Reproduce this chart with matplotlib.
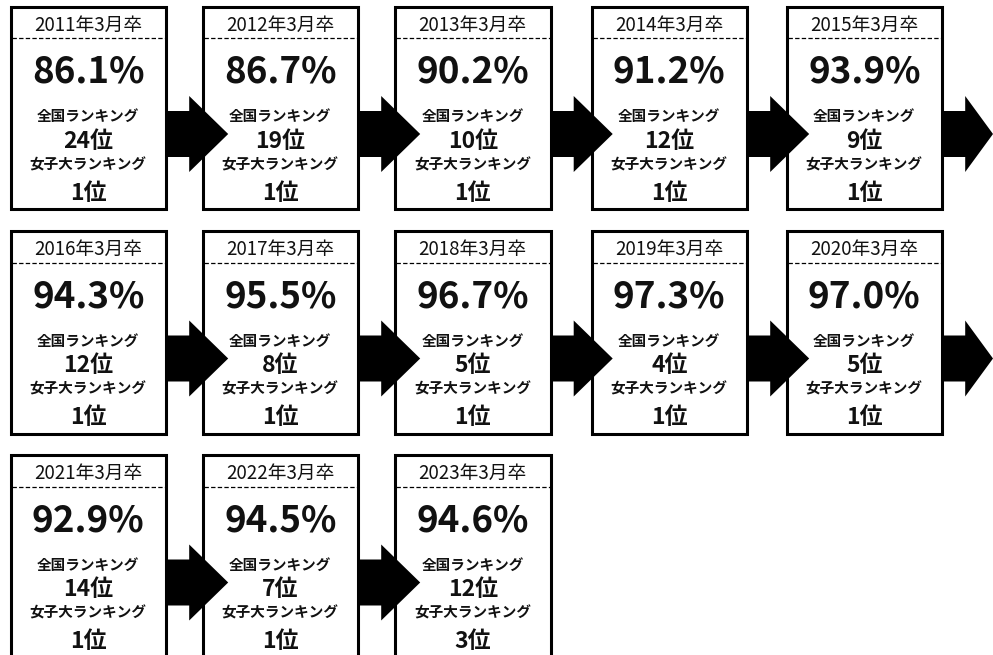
import matplotlib
matplotlib.use('Agg')
import matplotlib.pyplot as plt
from matplotlib.patches import Rectangle, Polygon

plt.rcParams['font.family'] = ['Noto Sans CJK JP', 'DejaVu Sans']

# data
years = [2011, 2012, 2013, 2014, 2015, 2016, 2017, 2018, 2019, 2020, 2021, 2022, 2023]
rates = [86.1, 86.7, 90.2, 91.2, 93.9, 94.3, 95.5, 96.7, 97.3, 97.0, 92.9, 94.5, 94.6]
national_rank = [24, 19, 10, 12, 9, 12, 8, 5, 4, 5, 14, 7, 12]
women_rank = [1, 1, 1, 1, 1, 1, 1, 1, 1, 1, 1, 1, 3]

label_national = '全国ランキング'
label_women = '女子大ランキング'

# layout (pixels)
W, H = 993, 655
col_left = [10.5, 202.5, 395, 591.5, 786.5]
row_top = [6.5, 231, 455]
card_w = 155.5
card_h = 202.5
per_row = 5
ink = '#111111'

fig = plt.figure(figsize=(W / 100, H / 100), dpi=100)
ax = fig.add_axes([0, 0, 1, 1])
ax.set_xlim(0, W)
ax.set_ylim(H, 0)
ax.axis('off')

for i, yr in enumerate(years):
  r, c = divmod(i, per_row)
  x0 = col_left[c]
  y0 = row_top[r]
  cx = x0 + card_w / 2

  # card box
  ax.add_patch(Rectangle((x0, y0), card_w, card_h, facecolor='white',
                         edgecolor='black', linewidth=2.2, zorder=1))
  # dashed header separator
  ax.plot([x0 + 1, x0 + card_w - 1], [y0 + 31.5, y0 + 31.5], color='black',
          linewidth=0.9, linestyle=(0, (3.5, 1.8)), zorder=2)

  ax.text(cx, y0 + 24, '%d年3月卒' % yr, ha='center', va='baseline',
          fontsize=13.5, color=ink, zorder=3)
  ax.text(cx, y0 + 76, '%.1f%%' % rates[i], ha='center', va='baseline',
          fontsize=26.5, fontweight='bold', color=ink, zorder=3)
  ax.text(cx, y0 + 114.5, label_national, ha='center', va='baseline',
          fontsize=10.5, fontweight='bold', color=ink, zorder=3)
  ax.text(cx, y0 + 141.5, '%d位' % national_rank[i], ha='center', va='baseline',
          fontsize=16.5, fontweight='bold', color=ink, zorder=3)
  ax.text(cx, y0 + 162.5, label_women, ha='center', va='baseline',
          fontsize=10.5, fontweight='bold', color=ink, zorder=3)
  ax.text(cx, y0 + 193.5, '%d位' % women_rank[i], ha='center', va='baseline',
          fontsize=16.5, fontweight='bold', color=ink, zorder=3)

  # arrow to the next card
  if i < len(years) - 1:
    R = x0 + card_w + 1.2
    yc = y0 + 127.5
    tip = min(R + 61, W)
    base = R + 22
    pts = [(R, yc - 23), (base, yc - 23), (base, yc - 38), (tip, yc),
           (base, yc + 38), (base, yc + 23), (R, yc + 23)]
    ax.add_patch(Polygon(pts, closed=True, facecolor='black',
                         edgecolor='none', zorder=4))

fig.savefig('out.png', dpi=100)
